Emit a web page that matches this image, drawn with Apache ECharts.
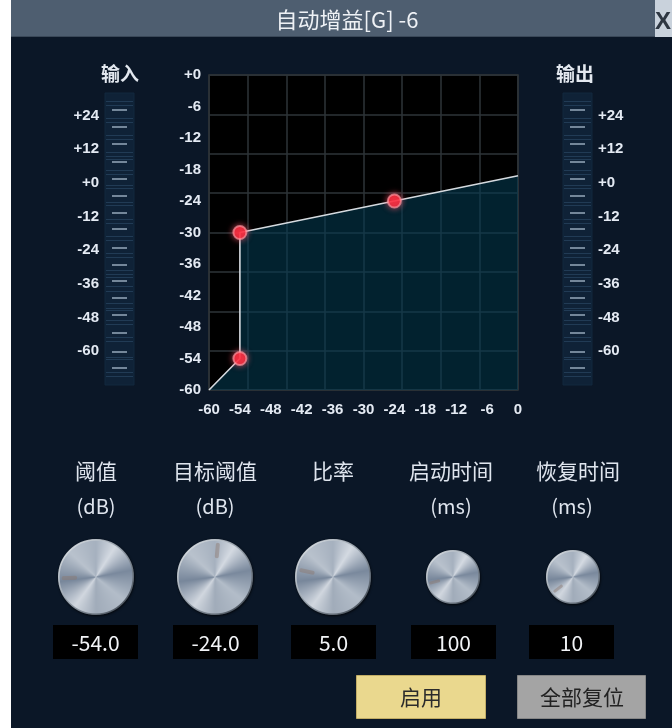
<!DOCTYPE html>
<html>
<head>
<meta charset="utf-8">
<script src="https://cdn.jsdelivr.net/npm/echarts@6/dist/echarts.min.js"></script>
<style>
html,body{margin:0;padding:0;background:#fff;}
#main{width:672px;height:728px;}
</style>
</head>
<body>
<div id="main"></div>
<script>
// ---- data ----
const titleText = '自动增益[G] -6';
const curveInput = [-60, -54, -54, -24, 0];
const curveOutput = [-60, -54, -30, -24, -19.2];
const handleInput = [-54, -54, -24];
const handleOutput = [-54, -30, -24];
const meterLabels = [24, 12, 0, -12, -24, -36, -48, -60];
const meterDashes = [26, 20, 14, 7.5, 1.5, -4.5, -10.5, -16.5, -23, -29, -35, -41, -47, -53.5, -60, -66];
const meterStripes = [29, 27.5, 23, 21.5, 17, 15.5, 11, 9.5, 8.5, 4.5, 3, -1, -2, -7, -8, -13, -14.5, -19, -20.5, -25, -26.5, -31, -32.5, -33.5, -37, -38.5, -43, -44.5, -45.5, -49, -50.5, -55, -56.5, -62, -63, -67.5, -69];
const knobLabels = ['阈值', '目标阈值', '比率', '启动时间', '恢复时间'];
const knobUnits = ['(dB)', '(dB)', '', '(ms)', '(ms)'];
const knobValues = ['-54.0', '-24.0', '5.0', '100', '10'];
const knobPointerDeg = [182, 85, 168, 195, 218];
const buttonLabels = ['启用', '全部复位'];

const CJK = "'Microsoft YaHei','Noto Sans CJK SC',sans-serif";
const NUM = "'Liberation Sans','DejaVu Sans',sans-serif";

// ---- layout ----
const knobCX = [96, 215, 333, 453, 573];
const knobR = [38, 38, 38, 27, 27];
const labelCX = [96, 215, 333, 451, 578];
const unitCX = [96, 215, 333, 451, 572];
const boxX = [53, 173, 291, 411, 529];

function signed(v){ return v > 0 ? '+' + v : (v === 0 ? '+0' : '' + v); }

function makeKnob(r, deg) {
  const pad = 7, s = 2 * (r + pad), k = 2;
  const c = document.createElement('canvas');
  c.width = s * k; c.height = s * k;
  const g = c.getContext('2d');
  g.scale(k, k);
  const cx = s / 2, cy = s / 2;
  g.save();
  g.shadowColor = 'rgba(0,0,0,0.75)'; g.shadowBlur = 5; g.shadowOffsetX = 1; g.shadowOffsetY = 2;
  g.beginPath(); g.arc(cx, cy, r, 0, Math.PI * 2); g.fillStyle = '#4a5562'; g.fill();
  g.restore();
  let fill;
  if (g.createConicGradient) {
    fill = g.createConicGradient(-Math.PI / 2, cx, cy);
    const st = [[0,'#a6b1bf'],[0.09,'#d4dae2'],[0.22,'#7a899d'],[0.36,'#b3bdc9'],[0.5,'#a1acba'],[0.6,'#d1d7df'],[0.73,'#78879b'],[0.87,'#b9c2cd'],[1,'#a6b1bf']];
    st.forEach(p => fill.addColorStop(p[0], p[1]));
  } else {
    fill = g.createRadialGradient(cx - r/3, cy - r/3, 2, cx, cy, r);
    fill.addColorStop(0, '#dfe4ea'); fill.addColorStop(1, '#7d8b9b');
  }
  g.beginPath(); g.arc(cx, cy, r - 1.2, 0, Math.PI * 2); g.fillStyle = fill; g.fill();
  const rim = g.createLinearGradient(cx - r, cy - r, cx + r, cy + r);
  rim.addColorStop(0, 'rgba(245,248,250,0.95)');
  rim.addColorStop(0.5, 'rgba(170,180,190,0.7)');
  rim.addColorStop(1, 'rgba(40,48,58,0.95)');
  g.beginPath(); g.arc(cx, cy, r - 0.8, 0, Math.PI * 2); g.lineWidth = 1.6; g.strokeStyle = rim; g.stroke();
  const a = deg * Math.PI / 180;
  const dx = Math.cos(a), dy = -Math.sin(a);
  g.beginPath();
  g.moveTo(cx + dx * r * 0.55, cy + dy * r * 0.55);
  g.lineTo(cx + dx * r * 0.85, cy + dy * r * 0.85);
  g.lineWidth = r > 30 ? 4 : 3; g.lineCap = 'round';
  g.strokeStyle = 'rgba(140,120,110,0.45)'; g.stroke();
  return { canvas: c, size: s };
}

const graphics = [];
graphics.push({ type: 'rect', shape: { x: 0, y: 0, width: 11, height: 728 }, style: { fill: '#ffffff' }, z: 100 });
graphics.push({ type: 'rect', shape: { x: 11, y: 0, width: 644, height: 37 }, style: { fill: '#4e5e70' }, z: 100 });
graphics.push({ type: 'rect', shape: { x: 11, y: 36, width: 661, height: 1 }, style: { fill: '#3a4858' }, z: 100 });
graphics.push({ type: 'text', x: 347, y: 20, style: { text: titleText, fill: '#eef1f5', font: "22px " + CJK, textAlign: 'center', textVerticalAlign: 'middle' }, z: 101 });
graphics.push({ type: 'rect', shape: { x: 655, y: 0, width: 17, height: 37 }, style: { fill: '#c9d2dc' }, z: 100 });
graphics.push({ type: 'text', x: 655, y: 22, style: { text: 'X', fill: '#2e3742', font: "bold 24px " + NUM, textAlign: 'left', textVerticalAlign: 'middle' }, z: 101 });
graphics.push({ type: 'text', x: 120, y: 74, style: { text: '输入', fill: '#e3e8ef', font: "bold 19px " + CJK, textAlign: 'center', textVerticalAlign: 'middle' }, z: 100 });
graphics.push({ type: 'text', x: 575, y: 74, style: { text: '输出', fill: '#e3e8ef', font: "bold 19px " + CJK, textAlign: 'center', textVerticalAlign: 'middle' }, z: 100 });

knobLabels.forEach((lab, i) => {
  graphics.push({ type: 'text', x: labelCX[i], y: 471, style: { text: lab, fill: '#dfe5ee', font: "21px " + CJK, textAlign: 'center', textVerticalAlign: 'middle' }, z: 100 });
  if (knobUnits[i]) {
    graphics.push({ type: 'text', x: unitCX[i], y: 506, style: { text: knobUnits[i], fill: '#dfe5ee', font: "20px " + CJK, textAlign: 'center', textVerticalAlign: 'middle' }, z: 100 });
  }
  const kn = makeKnob(knobR[i], knobPointerDeg[i]);
  graphics.push({ type: 'image', x: knobCX[i] - kn.size / 2, y: 577 - kn.size / 2, style: { image: kn.canvas, width: kn.size, height: kn.size }, z: 100 });
  graphics.push({ type: 'rect', shape: { x: boxX[i], y: 625, width: 85, height: 34 }, style: { fill: '#000000' }, z: 100 });
  graphics.push({ type: 'text', x: boxX[i] + 42.5, y: 643, style: { text: knobValues[i], fill: '#f2f4f7', font: "21px " + CJK, textAlign: 'center', textVerticalAlign: 'middle' }, z: 101 });
});

graphics.push({ type: 'rect', shape: { x: 356.5, y: 675.5, width: 129, height: 43 }, style: { fill: '#ead88e', stroke: '#c2ad66', lineWidth: 1 }, z: 100 });
graphics.push({ type: 'text', x: 421, y: 697, style: { text: buttonLabels[0], fill: '#2b2b2b', font: "21px " + CJK, textAlign: 'center', textVerticalAlign: 'middle' }, z: 101 });
graphics.push({ type: 'rect', shape: { x: 517.5, y: 675.5, width: 128, height: 43 }, style: { fill: '#a4a4a4', stroke: '#868686', lineWidth: 1 }, z: 100 });
graphics.push({ type: 'text', x: 582, y: 697, style: { text: buttonLabels[1], fill: '#222222', font: "21px " + CJK, textAlign: 'center', textVerticalAlign: 'middle' }, z: 101 });

const axisLabelStyle = { color: '#e4eaf3', fontSize: 15, fontWeight: 'bold', fontFamily: NUM };

function meterAxes(gridIndex, side) {
  return [
    { gridIndex, type: 'value', min: -72, max: 32, position: side,
      axisLine: { show: false }, axisTick: { show: false }, splitLine: { show: false },
      axisLabel: Object.assign({}, axisLabelStyle, { customValues: meterLabels, formatter: v => signed(v), margin: 6 }) },
    { gridIndex, type: 'value', min: -72, max: 32, position: 'left', offset: -7,
      axisLine: { show: false }, axisLabel: { show: false }, splitLine: { show: false },
      axisTick: { show: true, inside: true, length: 15, customValues: meterDashes, lineStyle: { color: '#74879a', width: 2 } } },
    { gridIndex, type: 'value', min: -72, max: 32, position: 'left', offset: -1,
      axisLine: { show: false }, axisLabel: { show: false }, splitLine: { show: false },
      axisTick: { show: true, inside: true, length: 27, customValues: meterStripes, lineStyle: { color: 'rgba(52,84,116,0.5)', width: 1 } } }
  ];
}

const option = {
  backgroundColor: '#0b1727',
  animation: false,
  grid: [
    { left: 209, top: 75, width: 309, height: 315, show: true, backgroundColor: '#000000', borderColor: '#20272e', borderWidth: 2 },
    { left: 105, top: 93, width: 29, height: 292, show: true, backgroundColor: '#0f2237', borderColor: '#13283e', borderWidth: 1 },
    { left: 563, top: 93, width: 29, height: 292, show: true, backgroundColor: '#0f2237', borderColor: '#13283e', borderWidth: 1 }
  ],
  xAxis: [
    { gridIndex: 0, type: 'value', min: -60, max: 0, interval: 6,
      axisLine: { show: false }, axisTick: { show: false }, splitLine: { show: false },
      axisLabel: Object.assign({}, axisLabelStyle, { margin: 12, formatter: v => '' + v }) },
    { gridIndex: 0, type: 'value', min: -60, max: 0, interval: 7.5,
      axisLine: { show: false }, axisTick: { show: false }, axisLabel: { show: false },
      splitLine: { show: true, lineStyle: { color: '#2e3439', width: 1.5 } } },
    { gridIndex: 1, type: 'value', show: false, min: 0, max: 1 },
    { gridIndex: 2, type: 'value', show: false, min: 0, max: 1 }
  ],
  yAxis: [
    { gridIndex: 0, type: 'value', min: -60, max: 0, interval: 6,
      axisLine: { show: false }, axisTick: { show: false }, splitLine: { show: false },
      axisLabel: Object.assign({}, axisLabelStyle, { margin: 8, formatter: v => signed(v) }) },
    { gridIndex: 0, type: 'value', min: -60, max: 0, interval: 7.5,
      axisLine: { show: false }, axisTick: { show: false }, axisLabel: { show: false },
      splitLine: { show: true, lineStyle: { color: '#2e3439', width: 1.5 } } }
  ].concat(meterAxes(1, 'left')).concat(meterAxes(2, 'right')),
  series: [
    { type: 'line', xAxisIndex: 0, yAxisIndex: 0,
      data: curveInput.map((x, i) => [x, curveOutput[i]]),
      showSymbol: false, symbol: 'none',
      lineStyle: { color: '#d5dadf', width: 1.6 },
      areaStyle: { color: 'rgba(3,60,82,0.82)', origin: 'start' }, z: 2 },
    { type: 'scatter', xAxisIndex: 0, yAxisIndex: 0,
      data: handleInput.map((x, i) => [x, handleOutput[i]]),
      symbolSize: 13,
      itemStyle: { color: '#ff2436', borderColor: 'rgba(255,150,160,0.85)', borderWidth: 2, shadowBlur: 6, shadowColor: 'rgba(255,90,110,0.9)' },
      z: 5 }
  ],
  graphic: { elements: graphics }
};

const chart = echarts.init(document.getElementById('main'), null, { renderer: 'canvas' });
chart.setOption(option);
</script>
</body>
</html>
